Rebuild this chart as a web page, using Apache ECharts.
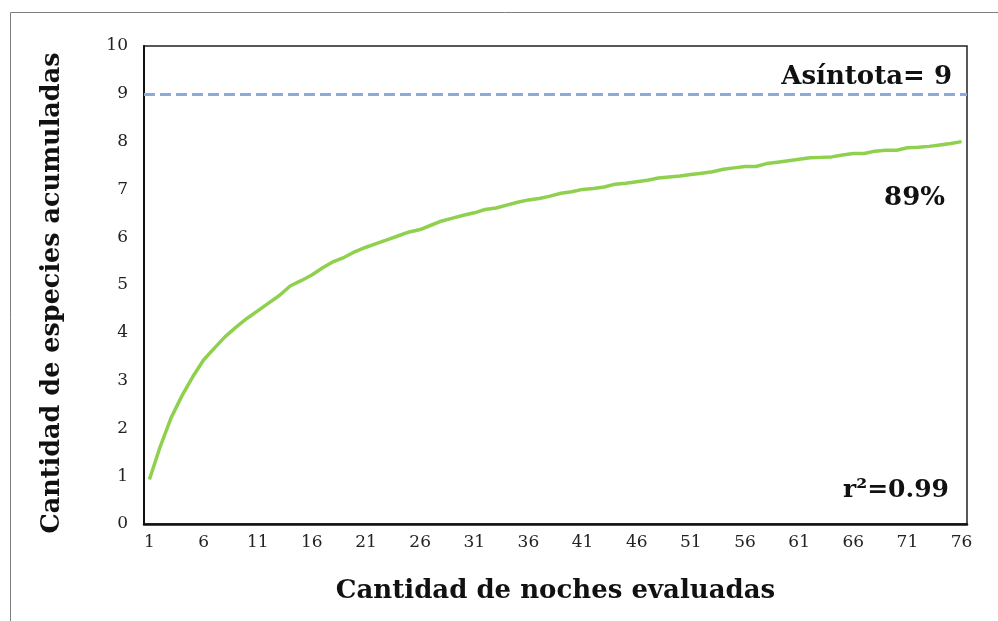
<!DOCTYPE html>
<html>
<head>
<meta charset="utf-8">
<script src="https://cdn.jsdelivr.net/npm/echarts@6/dist/echarts.min.js"></script>
<style>
html,body{margin:0;padding:0;background:#fff;}
#chart{width:998px;height:621px;}
</style>
</head>
<body>
<div id="chart"></div>
<script>
const nights = Array.from({length: 76}, (_, i) => String(i + 1));
const accumulatedSpecies = [
  0.93, 1.62, 2.22, 2.68, 3.08, 3.43, 3.68, 3.92, 4.12, 4.30,
  4.46, 4.62, 4.78, 4.98, 5.09, 5.21, 5.36, 5.49, 5.58, 5.70,
  5.79, 5.87, 5.95, 6.03, 6.11, 6.16, 6.25, 6.34, 6.40, 6.46,
  6.51, 6.58, 6.61, 6.67, 6.73, 6.78, 6.81, 6.86, 6.92, 6.95,
  7.00, 7.02, 7.05, 7.11, 7.13, 7.16, 7.19, 7.24, 7.26, 7.28,
  7.31, 7.34, 7.37, 7.42, 7.45, 7.48, 7.48, 7.54, 7.57, 7.60,
  7.63, 7.66, 7.67, 7.68, 7.72, 7.75, 7.75, 7.80, 7.82, 7.82,
  7.87, 7.88, 7.90, 7.93, 7.96, 8.00
];
const asymptote = 9;
const yTicks = [0, 10, 1];
const annotations = ['Asíntota= 9', '89%', 'r²=0.99'];
const xTitle = 'Cantidad de noches evaluadas';
const yTitle = 'Cantidad de especies acumuladas';

const serif = '"DejaVu Serif", "Liberation Serif", serif';
const chart = echarts.init(document.getElementById('chart'));
chart.setOption({
  animation: false,
  backgroundColor: '#fff',
  grid: {left: 144, right: 31, top: 46, bottom: 97, show: true, borderColor: '#222', borderWidth: 1.5, containLabel: false},
  xAxis: {
    type: 'category',
    data: nights,
    boundaryGap: true,
    axisLine: {lineStyle: {color: '#111', width: 2.5}},
    axisTick: {show: false},
    axisLabel: {interval: 4, color: '#222', fontFamily: serif, fontSize: 17, margin: 10},
    splitLine: {show: false},
    name: xTitle,
    nameLocation: 'middle',
    nameGap: 54,
    nameTextStyle: {fontFamily: serif, fontWeight: 'bold', fontSize: 26, color: '#111'}
  },
  yAxis: {
    type: 'value',
    min: yTicks[0], max: yTicks[1], interval: yTicks[2],
    axisLine: {show: true, lineStyle: {color: '#111', width: 2}},
    axisTick: {show: false},
    axisLabel: {color: '#222', fontFamily: serif, fontSize: 17, margin: 16},
    splitLine: {show: false}
  },
  series: [{
    type: 'line',
    data: accumulatedSpecies,
    showSymbol: false,
    smooth: false,
    lineStyle: {color: '#8fd14f', width: 3.5},
    itemStyle: {color: '#8fd14f'},
    markLine: {
      silent: true,
      symbol: ['none', 'none'],
      label: {show: false},
      lineStyle: {color: '#8eaadb', width: 3, type: [11, 5]},
      data: [{yAxis: asymptote}]
    }
  }],
  graphic: [
    {type: 'rect', left: 8, top: 10, shape: {width: 1100, height: 700}, style: {fill: 'none', stroke: '#7f7f7f', lineWidth: 1}, silent: true},
    {type: 'text', x: 52, y: 293, rotation: Math.PI / 2, style: {text: yTitle, align: 'center', verticalAlign: 'middle', font: 'bold 25.5px ' + serif, fill: '#111'}},
    {type: 'text', x: 952, y: 77, style: {text: annotations[0], align: 'right', verticalAlign: 'middle', font: 'bold 26px ' + serif, fill: '#111'}},
    {type: 'text', x: 945, y: 198.5, style: {text: annotations[1], align: 'right', verticalAlign: 'middle', font: 'bold 26px ' + serif, fill: '#111'}},
    {type: 'text', x: 949, y: 490, style: {text: annotations[2], align: 'right', verticalAlign: 'middle', font: 'bold 25px ' + serif, fill: '#111'}}
  ]
});
</script>
</body>
</html>
